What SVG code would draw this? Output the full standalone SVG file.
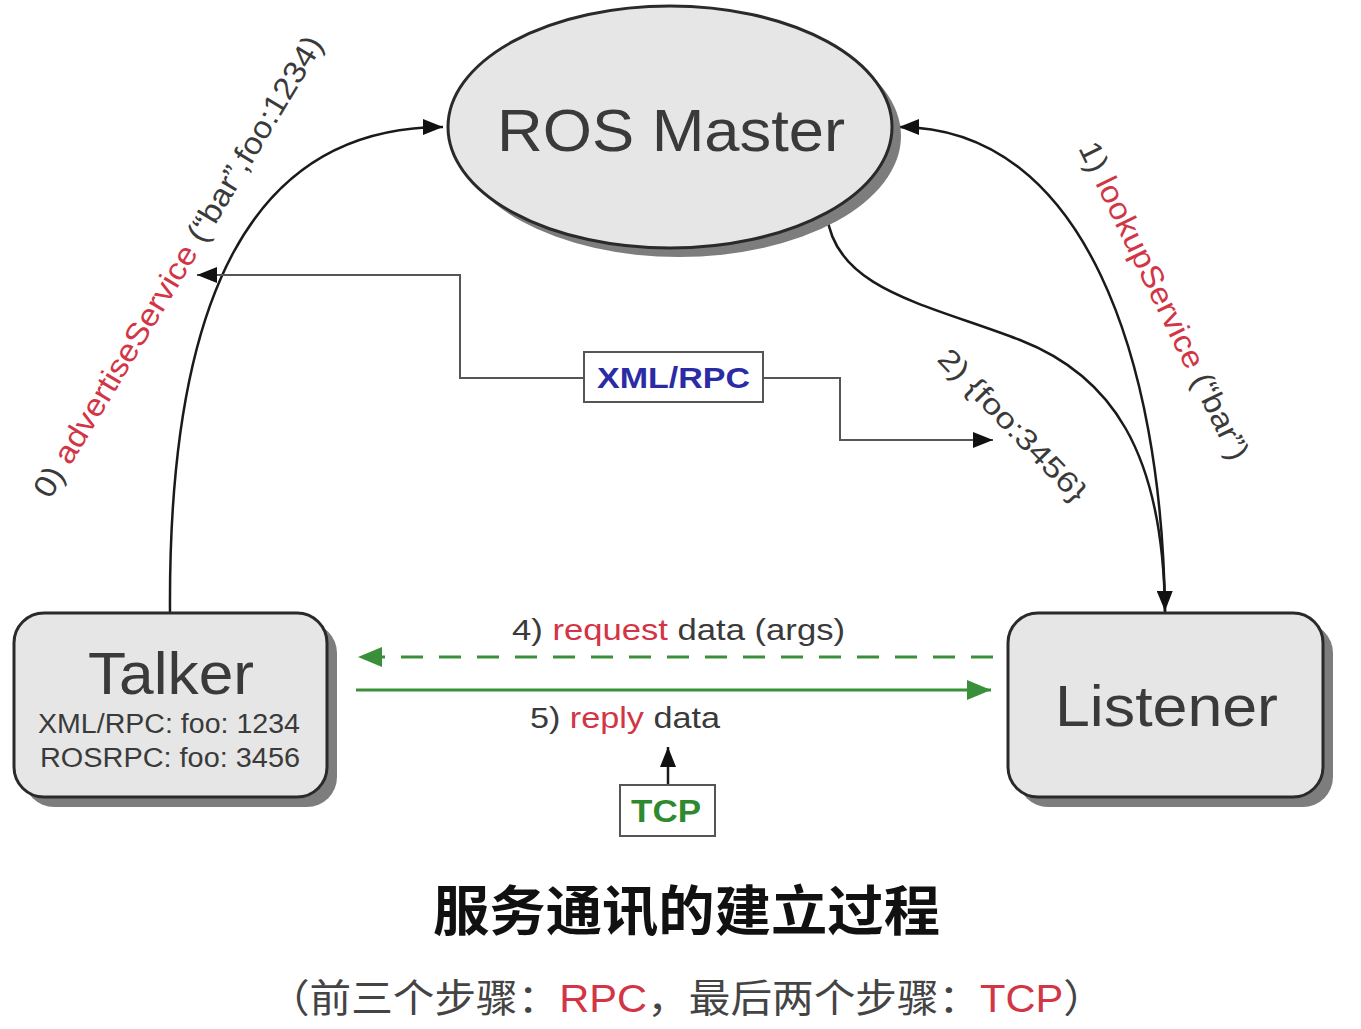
<svg xmlns="http://www.w3.org/2000/svg" width="1361" height="1029" viewBox="0 0 1361 1029">
<style>
.node{fill:#e6e6e6;stroke:#2a2a2a;stroke-width:3}
.shadow{fill:#7d7d7d}
.conn{fill:none;stroke:#1a1a1a;stroke-width:2.5}
.rpc{fill:none;stroke:#555;stroke-width:2}
.green{fill:none;stroke:#3a8f3a;stroke-width:3}
.t{font-family:"Liberation Sans",Arial,sans-serif;fill:#3a3a3a}
.red{fill:#d23545}
.cjk{font-family:"Liberation Sans","Noto Sans CJK SC",sans-serif}
</style>
<defs>
<marker id="ab" markerUnits="userSpaceOnUse" markerWidth="22" markerHeight="16" refX="20" refY="8" orient="auto"><path d="M0,0 L20,8 L0,16 Z" fill="#111"/></marker>
<marker id="ag" markerUnits="userSpaceOnUse" markerWidth="26" markerHeight="20" refX="24" refY="10" orient="auto"><path d="M0,0 L24,10 L0,20 Z" fill="#3a8f3a"/></marker>
</defs>
<rect width="1361" height="1029" fill="#fff"/>

<g id="connectors">
<path class="conn" d="M170,612 C168,300 250,127 443,127" marker-end="url(#ab)"/>
<path class="conn" d="M1165,612 C1162,360 1085,127 899,127" marker-end="url(#ab)"/>
<path class="conn" d="M827,215 C835,290 930,305 1020,340 C1110,375 1163,450 1165,611" marker-end="url(#ab)"/>
<polyline class="rpc" points="584,378 460,378 460,275 197,275" marker-end="url(#ab)"/>
<polyline class="rpc" points="763,378 840,378 840,440 993,440" marker-end="url(#ab)"/>
<line class="green" x1="993" y1="657" x2="358" y2="657" stroke-dasharray="22,16" marker-end="url(#ag)"/>
<line class="green" x1="356" y1="690" x2="991" y2="690" marker-end="url(#ag)"/>
<line class="conn" x1="668" y1="785" x2="668" y2="747" stroke-width="2" marker-end="url(#ab)"/>
<text class="t" font-size="31" transform="translate(50,500) rotate(-59)" textLength="532" lengthAdjust="spacingAndGlyphs">0) <tspan class="red">advertiseService</tspan> (“bar”,foo:1234)</text>
<text class="t" font-size="31" transform="translate(1078,148) rotate(64)" textLength="350" lengthAdjust="spacingAndGlyphs">1) <tspan class="red">lookupService</tspan> (“bar”)</text>
<text class="t" font-size="29" transform="translate(936,360) rotate(46)" textLength="200" lengthAdjust="spacingAndGlyphs">2) {foo:3456}</text>
<text class="t" font-size="30" x="512" y="640" textLength="333" lengthAdjust="spacingAndGlyphs">4) <tspan class="red">request</tspan> data (args)</text>
<text class="t" font-size="30" x="530" y="728" textLength="190" lengthAdjust="spacingAndGlyphs">5) <tspan class="red">reply</tspan> data</text>
</g>

<g id="ros-master">
<ellipse class="shadow" cx="679" cy="136" rx="222" ry="121"/>
<ellipse class="node" cx="670" cy="127" rx="222" ry="121"/>
<text class="t" font-size="60" x="497" y="151" textLength="348" lengthAdjust="spacingAndGlyphs" fill="#1e1e1e">ROS Master</text>
</g>

<g id="xmlrpc">
<rect x="584" y="352" width="179" height="50" fill="#fff" stroke="#555" stroke-width="2"/>
<text font-family="Liberation Sans,Arial,sans-serif" font-weight="bold" font-size="30" x="597" y="388" textLength="153" lengthAdjust="spacingAndGlyphs" fill="#2b2ba6">XML/RPC</text>
</g>

<g id="talker">
<rect class="shadow" x="24" y="623" width="313" height="184" rx="30"/>
<rect class="node" x="14" y="613" width="313" height="184" rx="30"/>
<text class="t" font-size="60" x="88" y="694" textLength="166" lengthAdjust="spacingAndGlyphs" fill="#1e1e1e">Talker</text>
<text class="t" font-size="27" x="38" y="733" textLength="262" lengthAdjust="spacingAndGlyphs" fill="#444">XML/RPC: foo: 1234</text>
<text class="t" font-size="27" x="40" y="767" textLength="260" lengthAdjust="spacingAndGlyphs" fill="#444">ROSRPC: foo: 3456</text>
</g>

<g id="listener">
<rect class="shadow" x="1018" y="623" width="315" height="184" rx="30"/>
<rect class="node" x="1008" y="613" width="315" height="184" rx="30"/>
<text class="t" font-size="58" x="1055" y="726" textLength="223" lengthAdjust="spacingAndGlyphs" fill="#1e1e1e">Listener</text>
</g>

<g id="tcp">
<rect x="620" y="785" width="95" height="51" fill="#fff" stroke="#555" stroke-width="2"/>
<text font-family="Liberation Sans,Arial,sans-serif" font-weight="bold" font-size="32" x="631" y="822" textLength="70" lengthAdjust="spacingAndGlyphs" fill="#2f8a2f">TCP</text>
</g>

<g id="caption">
<text class="cjk" font-weight="bold" font-size="54" x="433" y="931" textLength="507" lengthAdjust="spacingAndGlyphs" fill="#111">服务通讯的建立过程</text>
<text class="cjk" font-size="39" x="268" y="1012" textLength="837" lengthAdjust="spacingAndGlyphs" fill="#444">（前三个步骤：<tspan class="red">RPC</tspan>，最后两个步骤：<tspan class="red">TCP</tspan>）</text>
</g>
</svg>
